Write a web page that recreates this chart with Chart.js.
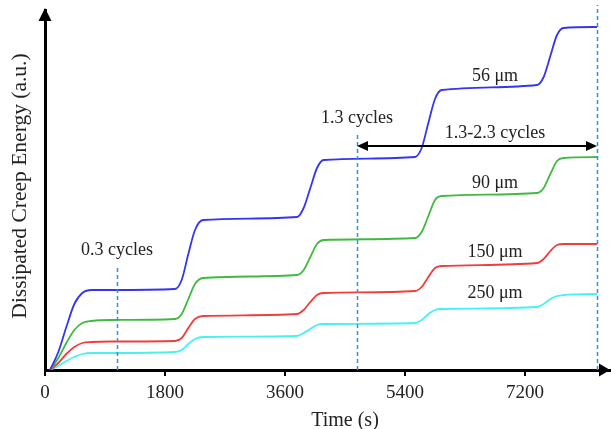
<!DOCTYPE html>
<html>
<head>
<meta charset="utf-8">
<title>Dissipated creep energy</title>
<script src="https://cdn.jsdelivr.net/npm/chart.js@4/dist/chart.umd.min.js"></script>
<style>
    html, body { margin: 0; padding: 0; background: #fff; }
    #wrap { width: 611px; height: 429px; position: relative; }
</style>
</head>
<body>
<div id="wrap"><canvas id="creep"></canvas></div>
<script>
// sample times (s), shared by all four curves
const timeSec = [75, 200, 320, 440, 560, 700, 1000, 1950, 2050, 2150, 2250, 2370,
    3780, 3880, 3980, 4080, 4180, 5550, 5650, 5750, 5850, 5950,
    7380, 7480, 7580, 7680, 7780, 8280];

// dissipated creep energy (a.u.) per grain size
const energy56 = [0, 18, 43, 66, 77, 80, 80, 81, 90, 116, 140, 150,
    153, 162, 182, 202, 210, 213, 222, 247, 271, 280,
    285, 293, 314, 335, 342, 343];
const energy90 = [0, 12, 27, 40, 47, 49, 50, 51, 56, 71, 86, 92,
    95, 100, 113, 126, 130, 132, 138, 154, 170, 174,
    177, 182, 196, 209, 212, 213];
const energy150 = [0, 7, 16, 23, 27, 28, 28.5, 29, 32, 42, 51, 54,
    56, 60, 68, 75, 77, 79, 83, 93, 102, 104,
    107, 111, 119, 125, 126, 126];
const energy250 = [0, 4, 9, 13, 16, 17, 17, 18, 20, 26, 31, 33,
    34, 37, 41, 45, 46, 47, 50, 56, 60, 61,
    63, 66, 71, 74, 75, 76];

const seriesNames = ['56 μm', '90 μm', '150 μm', '250 μm'];
const xTicks = [0, 1800, 3600, 5400, 7200];

// cycle markers: 0.3, 1.3 and 2.3 cycles of a 3600 s cycle
const markerTimes = [1080, 4680, 8280];
const markerTops = [103, 235, 365];

const FONT = '"Liberation Serif", "Times New Roman", serif';
const colors = ['#3434f2', '#3fba3f', '#f23c3c', '#45f2f2'];

function toPoints(values) {
    return timeSec.map((t, i) => ({ x: t, y: values[i] }));
}

// labels placed in data coordinates
const notes = [
    { text: '0.3 cycles', x: 1080, y: 120 },
    { text: '1.3 cycles', x: 4680, y: 252 },
    { text: '1.3-2.3 cycles', x: 6750, y: 237 },
    { text: seriesNames[0], x: 6750, y: 294 },
    { text: seriesNames[1], x: 6750, y: 187 },
    { text: seriesNames[2], x: 6750, y: 118 },
    { text: seriesNames[3], x: 6750, y: 77 }
];

function arrowHead(ctx, x, y, dir, len, half) {
    // dir: 'up', 'right', 'left'
    ctx.beginPath();
    if (dir === 'up') {
        ctx.moveTo(x, y);
        ctx.lineTo(x - half, y + len);
        ctx.lineTo(x + half, y + len);
    } else if (dir === 'right') {
        ctx.moveTo(x, y);
        ctx.lineTo(x - len, y - half);
        ctx.lineTo(x - len, y + half);
    } else {
        ctx.moveTo(x, y);
        ctx.lineTo(x + len, y - half);
        ctx.lineTo(x + len, y + half);
    }
    ctx.closePath();
    ctx.fill();
}

const decorations = {
    id: 'decorations',
    afterDatasetsDraw(chart) {
        const { ctx, chartArea, scales: { x, y } } = chart;
        ctx.save();

        // dashed cycle markers
        ctx.strokeStyle = '#3c8ad8';
        ctx.lineWidth = 1.5;
        ctx.setLineDash([4, 3]);
        markerTimes.forEach((t, i) => {
            const px = Math.round(x.getPixelForValue(t)) + 0.5;
            ctx.beginPath();
            ctx.moveTo(px, y.getPixelForValue(0));
            ctx.lineTo(px, y.getPixelForValue(markerTops[i]));
            ctx.stroke();
        });
        ctx.setLineDash([]);

        // double arrow between 1.3 and 2.3 cycles
        ctx.strokeStyle = '#000';
        ctx.fillStyle = '#000';
        ctx.lineWidth = 2;
        const ay = y.getPixelForValue(224);
        const ax1 = x.getPixelForValue(markerTimes[1]);
        const ax2 = x.getPixelForValue(markerTimes[2]);
        ctx.beginPath();
        ctx.moveTo(ax1 + 6, ay);
        ctx.lineTo(ax2 - 6, ay);
        ctx.stroke();
        arrowHead(ctx, ax1, ay, 'left', 11, 5);
        arrowHead(ctx, ax2, ay, 'right', 11, 5);

        // axis arrowheads
        arrowHead(ctx, chartArea.left, chartArea.top - 2, 'up', 13, 6.5);
        arrowHead(ctx, chartArea.right, chartArea.bottom, 'right', 11, 6.5);

        // annotation text
        ctx.fillStyle = '#222';
        ctx.font = '18px ' + FONT;
        ctx.textAlign = 'center';
        ctx.textBaseline = 'middle';
        notes.forEach(n => {
            ctx.fillText(n.text, x.getPixelForValue(n.x), y.getPixelForValue(n.y));
        });

        // axis titles
        ctx.font = '20px ' + FONT;
        ctx.fillText('Time (s)', 345, 421);
        ctx.font = '21.5px ' + FONT;
        ctx.translate(20, 186);
        ctx.rotate(-Math.PI / 2);
        ctx.fillText('Dissipated Creep Energy (a.u.)', 0, 0);
        ctx.restore();
    }
};

const chartData = {
    datasets: seriesNames.map((name, i) => ({
        label: name,
        data: toPoints([energy56, energy90, energy150, energy250][i]),
        borderColor: colors[i],
        borderWidth: 1.8,
        pointRadius: 0,
        cubicInterpolationMode: 'monotone',
        fill: false
    }))
};

new Chart(document.getElementById('creep'), {
    type: 'line',
    data: chartData,
    options: {
        responsive: true,
        maintainAspectRatio: false,
        animation: false,
        layout: { padding: { top: 10, right: 1, left: 0, bottom: 0 } },
        plugins: {
            legend: { display: false },
            tooltip: { enabled: false }
        },
        scales: {
            x: {
                type: 'linear',
                min: 0,
                max: 8475,
                afterBuildTicks: scale => {
                    scale.ticks = xTicks.map(v => ({ value: v }));
                },
                afterFit: scale => { scale.height = 59; },
                grid: {
                    display: true,
                    drawOnChartArea: false,
                    drawTicks: true,
                    tickLength: 6,
                    color: '#000',
                    lineWidth: 2
                },
                border: { display: true, color: '#000', width: 3 },
                ticks: {
                    color: '#222',
                    font: { family: FONT, size: 19 },
                    padding: 6,
                    maxRotation: 0,
                    callback: v => String(v)
                }
            },
            y: {
                min: 0,
                max: 360,
                afterFit: scale => { scale.width = 45; },
                grid: { display: false },
                border: { display: true, color: '#000', width: 3 },
                ticks: { display: false }
            }
        }
    },
    plugins: [decorations]
});
</script>
</body>
</html>
